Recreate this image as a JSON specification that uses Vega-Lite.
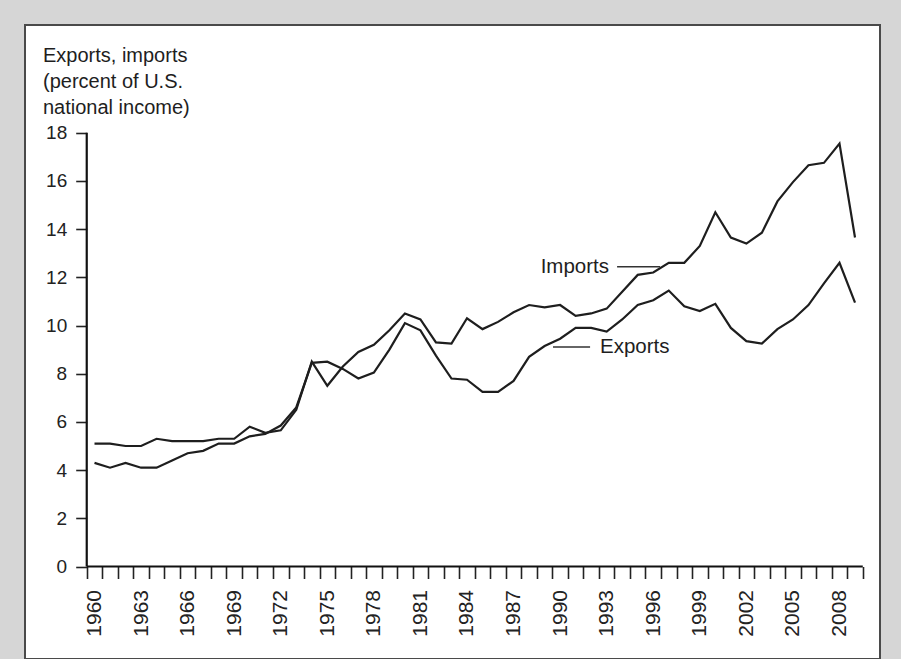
{
  "$schema": "https://vega.github.io/schema/vega-lite/v6.json",
  "autosize": "none",
  "width": 855,
  "height": 634,
  "padding": {"left": 25, "top": 25, "right": 21, "bottom": 0},
  "background": "#d6d6d6",
  "config": {
    "view": {"fill": "white", "stroke": "#4a4a4a", "strokeWidth": 2},
    "font": "Liberation Sans"
  },
  "data": {
    "values": [
      {"year": 1960, "Imports": 5.1, "Exports": 4.3},
      {"year": 1961, "Imports": 5.1, "Exports": 4.1},
      {"year": 1962, "Imports": 5.0, "Exports": 4.3},
      {"year": 1963, "Imports": 5.0, "Exports": 4.1},
      {"year": 1964, "Imports": 5.3, "Exports": 4.1},
      {"year": 1965, "Imports": 5.2, "Exports": 4.4},
      {"year": 1966, "Imports": 5.2, "Exports": 4.7},
      {"year": 1967, "Imports": 5.2, "Exports": 4.8},
      {"year": 1968, "Imports": 5.3, "Exports": 5.1},
      {"year": 1969, "Imports": 5.3, "Exports": 5.1},
      {"year": 1970, "Imports": 5.8, "Exports": 5.4},
      {"year": 1971, "Imports": 5.55, "Exports": 5.5},
      {"year": 1972, "Imports": 5.65, "Exports": 5.85},
      {"year": 1973, "Imports": 6.5, "Exports": 6.6},
      {"year": 1974, "Imports": 8.5, "Exports": 8.45},
      {"year": 1975, "Imports": 7.5, "Exports": 8.5},
      {"year": 1976, "Imports": 8.3, "Exports": 8.2},
      {"year": 1977, "Imports": 8.9, "Exports": 7.8},
      {"year": 1978, "Imports": 9.2, "Exports": 8.05},
      {"year": 1979, "Imports": 9.8, "Exports": 9.0},
      {"year": 1980, "Imports": 10.5, "Exports": 10.1},
      {"year": 1981, "Imports": 10.25, "Exports": 9.8},
      {"year": 1982, "Imports": 9.3, "Exports": 8.75},
      {"year": 1983, "Imports": 9.25, "Exports": 7.8},
      {"year": 1984, "Imports": 10.3, "Exports": 7.75},
      {"year": 1985, "Imports": 9.85, "Exports": 7.25},
      {"year": 1986, "Imports": 10.15, "Exports": 7.25},
      {"year": 1987, "Imports": 10.55, "Exports": 7.7},
      {"year": 1988, "Imports": 10.85, "Exports": 8.7},
      {"year": 1989, "Imports": 10.75, "Exports": 9.15},
      {"year": 1990, "Imports": 10.85, "Exports": 9.45},
      {"year": 1991, "Imports": 10.4, "Exports": 9.9},
      {"year": 1992, "Imports": 10.5, "Exports": 9.9},
      {"year": 1993, "Imports": 10.7, "Exports": 9.75},
      {"year": 1994, "Imports": 11.4, "Exports": 10.25},
      {"year": 1995, "Imports": 12.1, "Exports": 10.85},
      {"year": 1996, "Imports": 12.2, "Exports": 11.05},
      {"year": 1997, "Imports": 12.6, "Exports": 11.45},
      {"year": 1998, "Imports": 12.6, "Exports": 10.8},
      {"year": 1999, "Imports": 13.3, "Exports": 10.6},
      {"year": 2000, "Imports": 14.7, "Exports": 10.9},
      {"year": 2001, "Imports": 13.65, "Exports": 9.9},
      {"year": 2002, "Imports": 13.4, "Exports": 9.35},
      {"year": 2003, "Imports": 13.85, "Exports": 9.25},
      {"year": 2004, "Imports": 15.15, "Exports": 9.85},
      {"year": 2005, "Imports": 15.95, "Exports": 10.25},
      {"year": 2006, "Imports": 16.65, "Exports": 10.85},
      {"year": 2007, "Imports": 16.75, "Exports": 11.75},
      {"year": 2008, "Imports": 17.55, "Exports": 12.6},
      {"year": 2009, "Imports": 13.65, "Exports": 10.95}
    ]
  },
  "layer": [
    {
      "transform": [{"fold": ["Imports", "Exports"], "as": ["series", "value"]}],
      "mark": {"type": "line", "color": "#1e1e1e", "strokeWidth": 2.2},
      "encoding": {
        "detail": {"field": "series", "type": "nominal"},
        "x": {
          "field": "year", "type": "quantitative",
          "scale": {"domain": [1955.522, 2010.61], "nice": false, "zero": false},
          "axis": {
            "values": [1959.5, 1960.5, 1961.5, 1962.5, 1963.5, 1964.5, 1965.5, 1966.5, 1967.5, 1968.5, 1969.5, 1970.5, 1971.5, 1972.5, 1973.5, 1974.5, 1975.5, 1976.5, 1977.5, 1978.5, 1979.5, 1980.5, 1981.5, 1982.5, 1983.5, 1984.5, 1985.5, 1986.5, 1987.5, 1988.5, 1989.5, 1990.5, 1991.5, 1992.5, 1993.5, 1994.5, 1995.5, 1996.5, 1997.5, 1998.5, 1999.5, 2000.5, 2001.5, 2002.5, 2003.5, 2004.5, 2005.5, 2006.5, 2007.5, 2008.5, 2009.5],
            "tickCount": 200,
            "offset": -92.5,
            "domain": false,
            "grid": false,
            "title": null,
            "tickSize": 12,
            "tickColor": "#222",
            "tickWidth": 1.6,
            "labelExpr": "(round(datum.value + 0.5) - 1960) % 3 == 0 ? toString(round(datum.value + 0.5)) : ''",
            "labelOffset": 7.76,
            "labelAngle": 270,
            "labelAlign": "right",
            "labelBaseline": "middle",
            "labelPadding": 11,
            "labelFontSize": 21,
            "labelColor": "#222",
            "labelOverlap": false,
            "labelFlush": false,
            "labelBound": false
          }
        },
        "y": {
          "field": "value", "type": "quantitative",
          "scale": {"domain": [-3.838, 22.469], "nice": false, "zero": false},
          "axis": {
            "values": [0, 2, 4, 6, 8, 10, 12, 14, 16, 18],
            "format": "d",
            "offset": -61.7,
            "domain": false,
            "grid": false,
            "title": null,
            "tickSize": 11,
            "tickColor": "#222",
            "tickWidth": 1.6,
            "labelPadding": 9,
            "labelFontSize": 19,
            "labelColor": "#222"
          }
        }
      }
    },
    {
      "data": {"values": [{}]},
      "mark": {"type": "rule", "color": "#111", "strokeWidth": 2.2},
      "encoding": {
        "x": {"datum": 1959.5, "type": "quantitative"},
        "y": {"datum": 0, "type": "quantitative"},
        "y2": {"datum": 18}
      }
    },
    {
      "data": {"values": [{}]},
      "mark": {"type": "rule", "color": "#111", "strokeWidth": 2.2},
      "encoding": {
        "x": {"datum": 1959.5, "type": "quantitative"},
        "x2": {"datum": 2009.5},
        "y": {"datum": 0, "type": "quantitative"}
      }
    },
    {
      "data": {"values": [{}]},
      "mark": {"type": "text", "text": ["Exports, imports", "(percent of U.S.", "national income)"], "align": "left", "baseline": "top", "fontSize": 20, "lineHeight": 26, "color": "#1e1e1e"},
      "encoding": {
        "x": {"datum": 1956.68, "type": "quantitative"},
        "y": {"datum": 21.6, "type": "quantitative"}
      }
    },
    {
      "data": {"values": [{}]},
      "mark": {"type": "text", "text": "Imports", "align": "right", "baseline": "middle", "fontSize": 20.5, "color": "#1e1e1e"},
      "encoding": {
        "x": {"datum": 1993.15, "type": "quantitative"},
        "y": {"datum": 12.44, "type": "quantitative"}
      }
    },
    {
      "data": {"values": [{}]},
      "mark": {"type": "rule", "color": "#333", "strokeWidth": 1.5},
      "encoding": {
        "x": {"datum": 1993.67, "type": "quantitative"},
        "x2": {"datum": 1996.44},
        "y": {"datum": 12.44, "type": "quantitative"}
      }
    },
    {
      "data": {"values": [{}]},
      "mark": {"type": "text", "text": "Exports", "align": "left", "baseline": "middle", "fontSize": 20.5, "color": "#1e1e1e"},
      "encoding": {
        "x": {"datum": 1992.57, "type": "quantitative"},
        "y": {"datum": 9.11, "type": "quantitative"}
      }
    },
    {
      "data": {"values": [{}]},
      "mark": {"type": "rule", "color": "#333", "strokeWidth": 1.5},
      "encoding": {
        "x": {"datum": 1989.54, "type": "quantitative"},
        "x2": {"datum": 1991.93},
        "y": {"datum": 9.11, "type": "quantitative"}
      }
    }
  ]
}
